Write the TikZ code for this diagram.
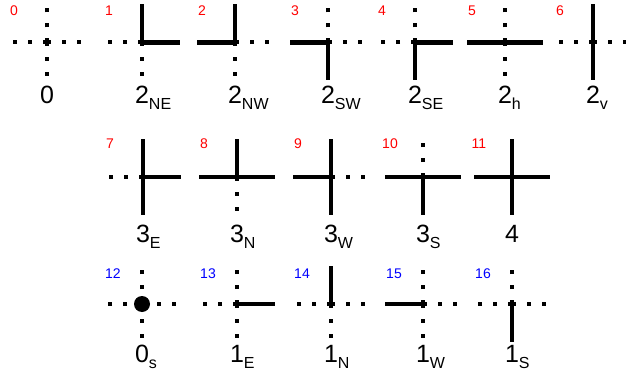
\documentclass[tikz,border=0pt]{standalone}
\usepackage{fontspec}
\setmainfont{Liberation Sans}
\usepackage{xcolor}
\usepackage{tikz}
\usetikzlibrary{calc}

\newcommand\tilesub[1]{\rlap{\raisebox{-6pt}{\fontsize{16}{16}\selectfont #1}}}

\begin{document}
\begin{tikzpicture}[x=1pt, y=-1pt,
	wire/.style={line width=4.3pt},
	dots/.style={line width=4pt, dash pattern=on 4pt off 11pt},
	tilename/.style={anchor=base, inner sep=0pt, font=\fontsize{25}{25}\selectfont},
	rednum/.style={red, inner sep=0pt, font=\fontsize{14}{14}\selectfont},
	bluenum/.style={blue, inner sep=0pt, font=\fontsize{14}{14}\selectfont}]
	\useasboundingbox (0,0) rectangle (626,377);
	
	% row 1
	\foreach \i/\x/\e/\n/\w/\s/\lab in {
		0/47/dots/dots/dots/dots/{0},
		1/142/wire/wire/dots/dots/{2\tilesub{NE}},
		2/235/dots/wire/wire/dots/{2\tilesub{NW}},
		3/328/dots/dots/wire/wire/{2\tilesub{SW}},
		4/415/wire/dots/dots/wire/{2\tilesub{SE}},
		5/505/wire/dots/wire/dots/{2\tilesub{h}},
		6/593/dots/wire/dots/wire/{2\tilesub{v}}}{
		\coordinate (t\i) at (\x,42.5);
		\draw[\e] (t\i) -- ++(38,0);
		\draw[\n] (t\i) -- ++(0,-38);
		\draw[\w] (t\i) -- ++(-38,0);
		\draw[\s] (t\i) -- ++(0,38);
		\node[rednum] (num\i) at ($(t\i)+(-33,-32)$) {\i};
		\node[tilename] (lab\i) at ($(t\i)+(0,60.5)$) {\lab};
	}
	
	% row 2
	\foreach \i/\x/\e/\n/\w/\s/\lab in {
		7/143/wire/wire/dots/wire/{3\tilesub{E}},
		8/237/wire/wire/wire/dots/{3\tilesub{N}},
		9/331/dots/wire/wire/wire/{3\tilesub{W}},
		10/423/wire/dots/wire/wire/{3\tilesub{S}},
		11/512/wire/wire/wire/wire/{4}}{
		\coordinate (t\i) at (\x,177);
		\draw[\e] (t\i) -- ++(38,0);
		\draw[\n] (t\i) -- ++(0,-38);
		\draw[\w] (t\i) -- ++(-38,0);
		\draw[\s] (t\i) -- ++(0,38);
		\node[rednum] (num\i) at ($(t\i)+(-33,-33)$) {\i};
		\node[tilename] (lab\i) at ($(t\i)+(0,65)$) {\lab};
	}
	
	% row 3
	\foreach \i/\x/\e/\n/\w/\s/\lab in {
		12/142/dots/dots/dots/dots/{0\tilesub{s}},
		13/237/wire/dots/dots/dots/{1\tilesub{E}},
		14/331/dots/wire/dots/dots/{1\tilesub{N}},
		15/423/dots/dots/wire/dots/{1\tilesub{W}},
		16/512/dots/dots/dots/wire/{1\tilesub{S}}}{
		\coordinate (t\i) at (\x,304);
		\draw[\e] (t\i) -- ++(38,0);
		\draw[\n] (t\i) -- ++(0,-38);
		\draw[\w] (t\i) -- ++(-38,0);
		\draw[\s] (t\i) -- ++(0,38);
		\node[bluenum] (num\i) at ($(t\i)+(-29,-30)$) {\i};
		\node[tilename] (lab\i) at ($(t\i)+(0,58)$) {\lab};
	}
	\fill (t12) circle[radius=8];
\end{tikzpicture}
\end{document}
